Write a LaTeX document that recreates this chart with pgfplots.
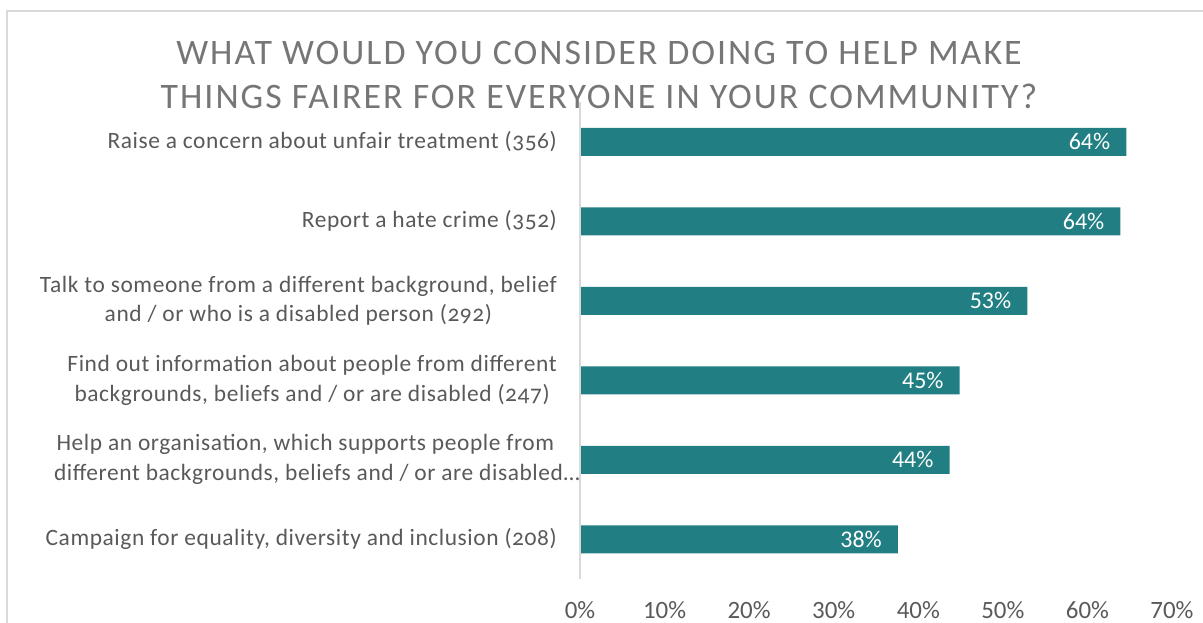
\documentclass[border=0pt]{standalone}
\usepackage{pgfplots}
\pgfplotsset{compat=1.18}
\usepackage{fontspec}
\setmainfont{Carlito}
\definecolor{barteal}{RGB}{33,126,130}
\definecolor{titlegrey}{RGB}{118,118,118}
\definecolor{labgrey}{RGB}{89,89,89}
\definecolor{framegrey}{RGB}{217,217,217}
\begin{document}
\begin{tikzpicture}
\useasboundingbox (0,0) rectangle (1203bp,-623bp);
\clip (0,0) rectangle (1203bp,-623bp);
\draw[framegrey, line width=2bp] (7bp,-700bp) -- (7bp,-11bp) -- (1260bp,-11bp);
\node[text=titlegrey, font=\fontsize{36}{45}\selectfont\addfontfeature{LetterSpace=5.6}, align=center, anchor=center] at (599bp,-75bp)
  {WHAT WOULD YOU CONSIDER DOING TO HELP MAKE\\THINGS FAIRER FOR EVERYONE IN YOUR COMMUNITY?};
\begin{axis}[
  at={(580bp,-579bp)}, anchor=south west,
  width=592bp, height=477bp, scale only axis,
  xmin=0, xmax=70, ymin=0.5, ymax=6.5,
  y dir=reverse,
  xbar, bar width=28bp,
  axis line style={draw=none},
  major tick length=0pt,
  xtick={0,10,...,70},
  xticklabel={\pgfmathprintnumber{\tick}\%},
  /pgf/number format/assume math mode=true,
  xticklabel style={font=\fontsize{25}{28}\selectfont, text=labgrey, inner sep=0pt, yshift=-22bp},
  ytick={1,...,6},
  yticklabels={
    {Raise a concern about unfair treatment (356)},
    {Report a hate crime (352)},
    {Talk to someone from a different background, belief\\and / or who is a disabled person (292)},
    {Find out information about people from different\\backgrounds, beliefs and / or are disabled (247)},
    {Help an organisation, which supports people from\\different backgrounds, beliefs and / or are disabled…\hspace*{-23bp}},
    {Campaign for equality, diversity and inclusion (208)}
  },
  yticklabel style={font=\fontsize{23.5}{30}\selectfont\addfontfeature{LetterSpace=2.5,Numbers=OldStyle}, text=labgrey, align=center, anchor=east, inner sep=0pt, xshift=-23bp},
  point meta=explicit,
  nodes near coords={\pgfmathprintnumber{\pgfplotspointmeta}\%},
  nodes near coords style={anchor=east, text=white, font=\fontsize{24}{28}\selectfont, inner sep=0pt, xshift=-16bp},
  clip=false,
]
\addplot[fill=barteal, draw=none] coordinates {
  (64.6,1) [64]
  (63.9,2) [64]
  (52.9,3) [53]
  (44.9,4) [45]
  (43.7,5) [44]
  (37.6,6) [38]
};
\draw[framegrey, line width=1.5bp] (axis cs:0,0.5) -- (axis cs:0,6.5);
\end{axis}
\end{tikzpicture}
\end{document}
